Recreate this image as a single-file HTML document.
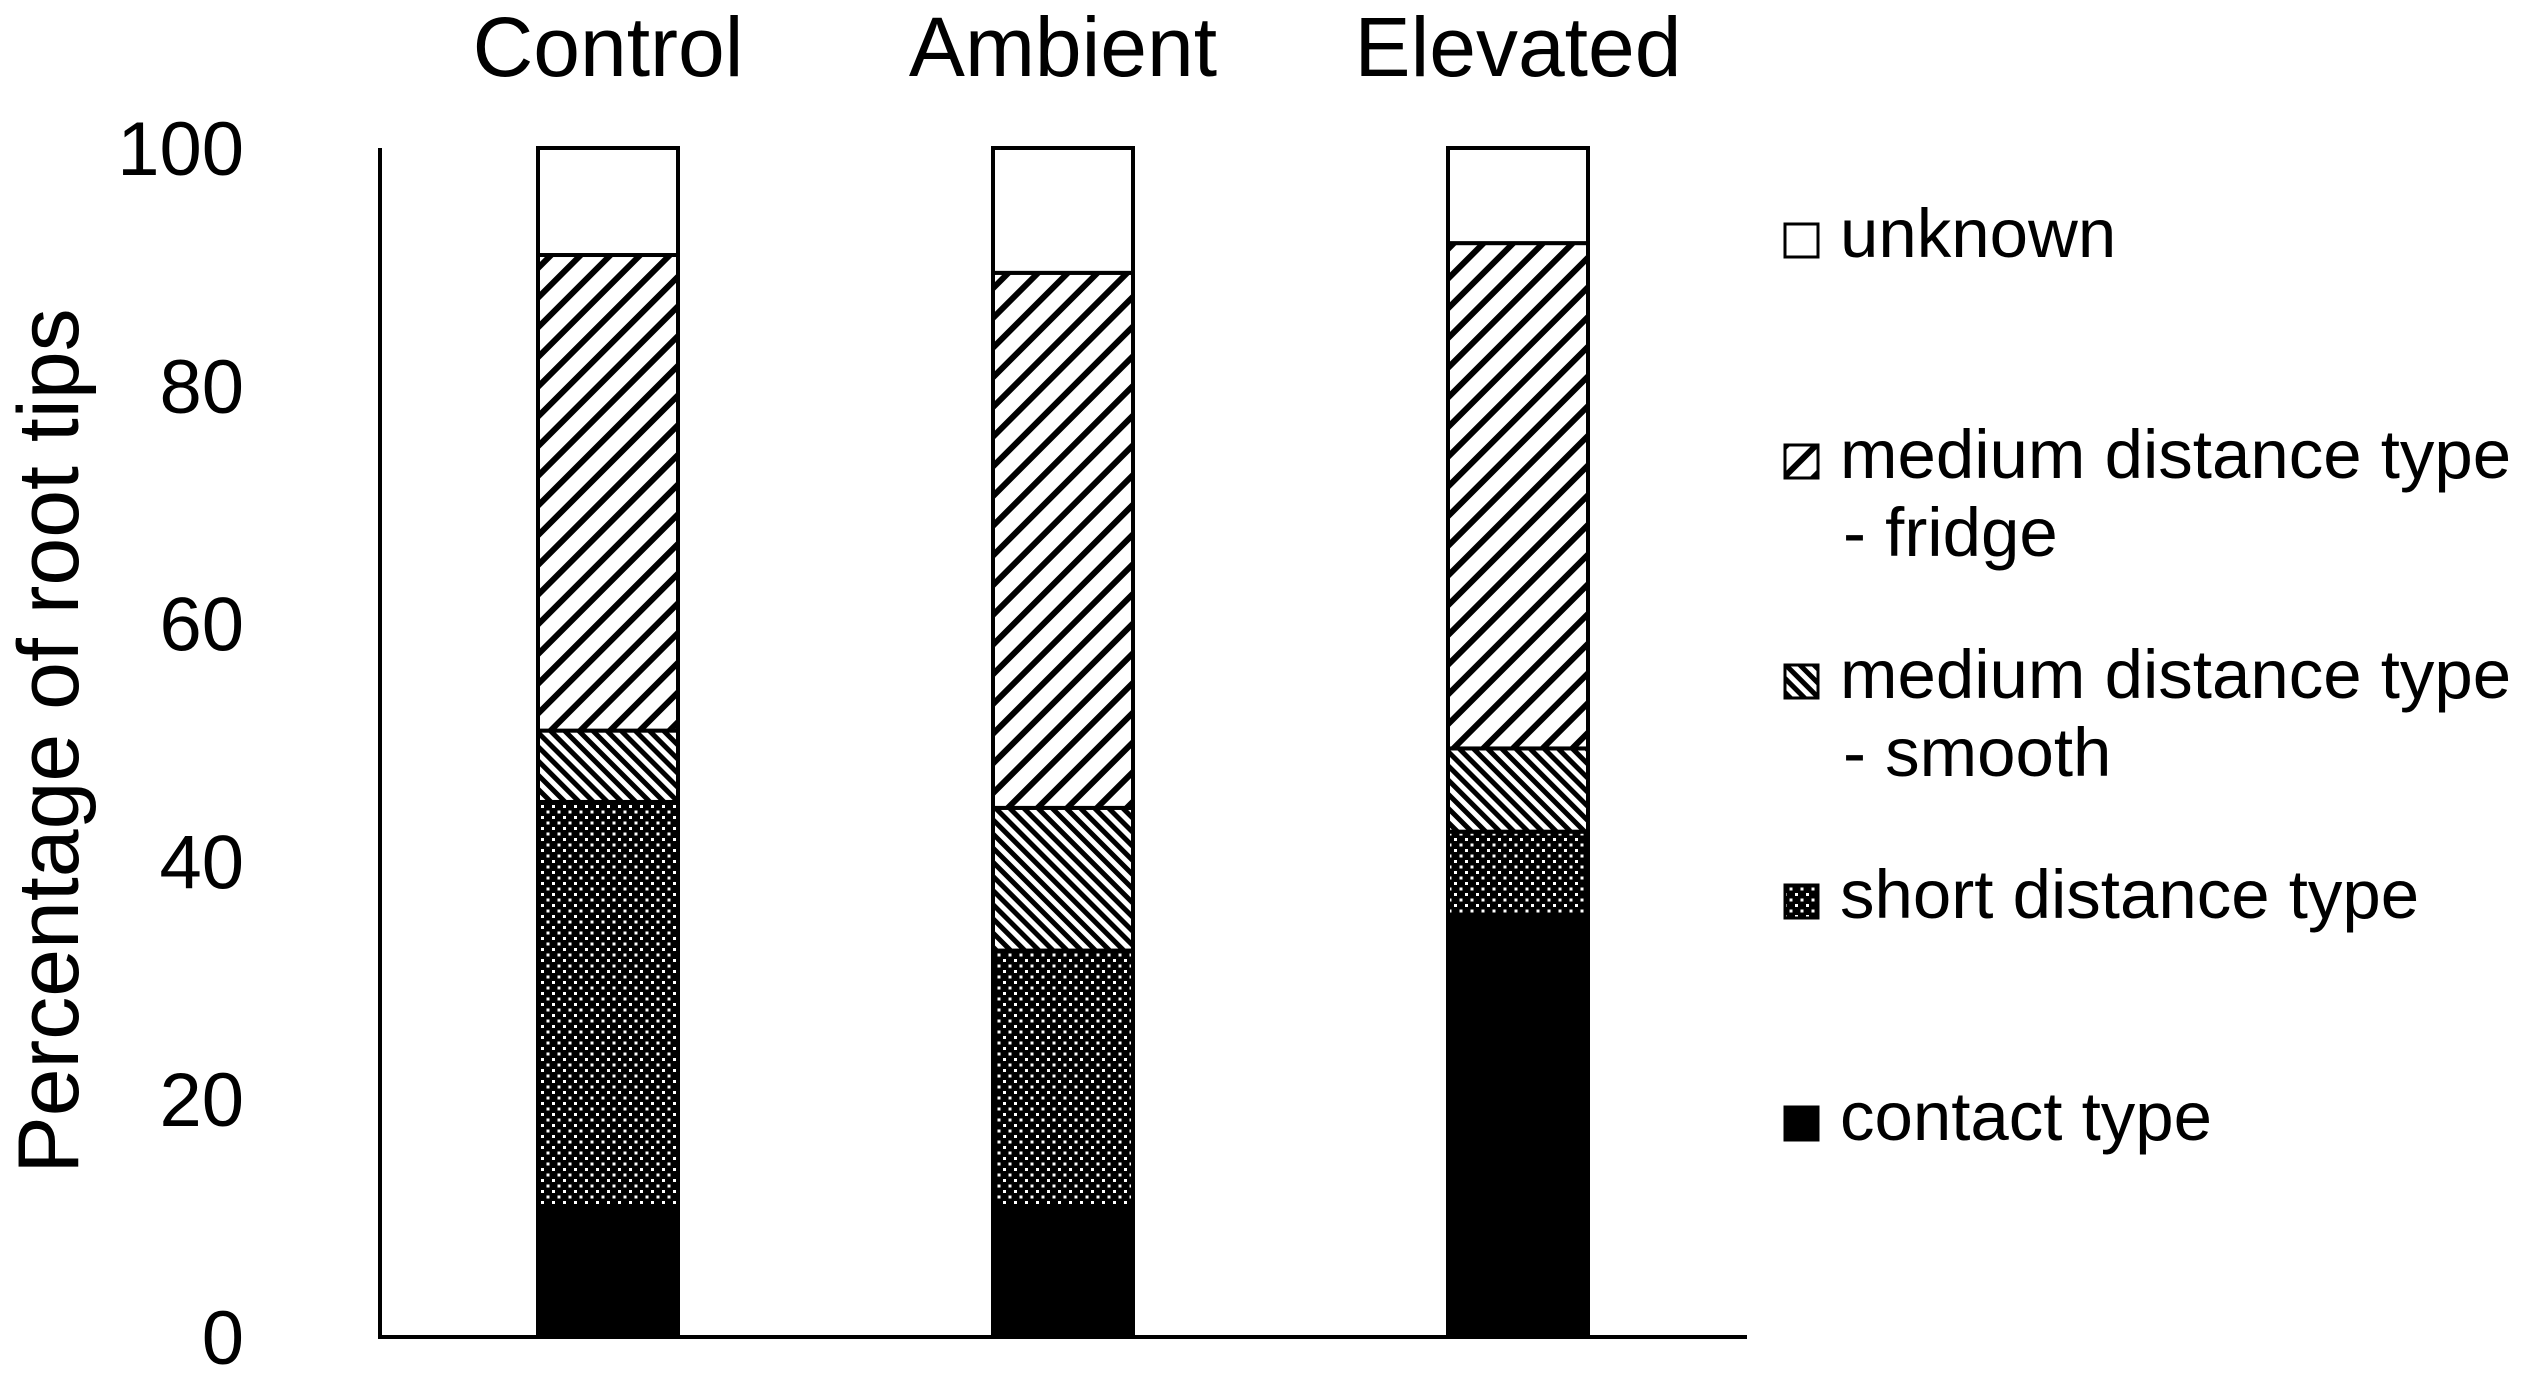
<!DOCTYPE html>
<html><head><meta charset="utf-8"><style>
body{margin:0;background:#fff;}
svg text{font-family:"Liberation Sans",Arial,sans-serif;fill:#000;}
</style></head><body>
<svg width="2525" height="1374" viewBox="0 0 2525 1374" xmlns="http://www.w3.org/2000/svg">
<defs>
<pattern id="pFridge" patternUnits="userSpaceOnUse" width="21" height="21" patternTransform="rotate(45)">
<rect width="21" height="21" fill="#fff"/><rect width="6" height="21" fill="#000"/></pattern>
<pattern id="pSmooth" patternUnits="userSpaceOnUse" width="10" height="10" patternTransform="rotate(-45)">
<rect width="10" height="10" fill="#fff"/><rect width="5" height="10" fill="#000"/></pattern>
<pattern id="pShort" patternUnits="userSpaceOnUse" width="11" height="11">
<rect width="11" height="11" fill="#000"/><rect x="2" y="2" width="3" height="3" fill="#fff"/><rect x="7.5" y="7.5" width="3" height="3" fill="#fff"/></pattern>
</defs>
<g id="chart"></g>
</svg>
<script>
const categories=["Control","Ambient","Elevated"];
const seriesNames=["contact type","short distance type","medium distance type - smooth","medium distance type - fridge","unknown"];
const contact=[11,11,35.5];
const shortDist=[34,21.5,7];
const smooth=[6,12,7];
const fridge=[40,45,42.5];
const unknown=[9,10.5,8];
const yTicks=[0,20,40,60,80,100];
const fills=["#000","url(#pShort)","url(#pSmooth)","url(#pFridge)","#fff"];
const NS="http://www.w3.org/2000/svg";
const g=document.getElementById('chart');
const y0=1337,y100=148;
const yScale=v=>y0-(y0-y100)*v/100;
const xCenter=i=>608+i*455;
const barW=140;
function el(t,a,txt){const e=document.createElementNS(NS,t);for(const k in a)e.setAttribute(k,a[k]);if(txt!==undefined)e.textContent=txt;g.appendChild(e);return e;}
const series=[contact,shortDist,smooth,fridge,unknown];
categories.forEach((c,i)=>{
  let acc=0;
  series.forEach((s,j)=>{
    const r=el('rect',{x:xCenter(i)-barW/2,y:yScale(acc+s[i]),width:barW,height:yScale(acc)-yScale(acc+s[i]),fill:fills[j],stroke:'#000','stroke-width':4});
    
    
    acc+=s[i];
  });
  const t=el('text',{x:xCenter(i),y:76,'font-size':84,'text-anchor':'middle'},c);
  
  
});
const ax=el('path',{d:`M380 ${y100} V${y0} H1747`,stroke:'#000','stroke-width':4,fill:'none'});


yTicks.forEach(v=>{
  const t=el('text',{x:244,y:yScale(v)+27,'font-size':76,'text-anchor':'end'},v);
  
  
});
const yt=el('text',{x:0,y:0,'font-size':86,'text-anchor':'middle',transform:'translate(78,741) rotate(-90)'},'Percentage of root tips');


const legend=[[4,257,["unknown"]],[3,478,["medium distance type","- fridge"]],[2,698,["medium distance type","- smooth"]],[1,918,["short distance type"]],[0,1140,["contact type"]]];
legend.forEach(([j,y,lines])=>{
  const r=el('rect',{x:1785,y:y-33,width:33,height:33,fill:fills[j],stroke:'#000','stroke-width':3});
  
  
  lines.forEach((l,k)=>{
    const t=el('text',{x:k?1843:1840,y:y+k*78,'font-size':69},l);
    
    
  });
});
</script>
</body></html>
